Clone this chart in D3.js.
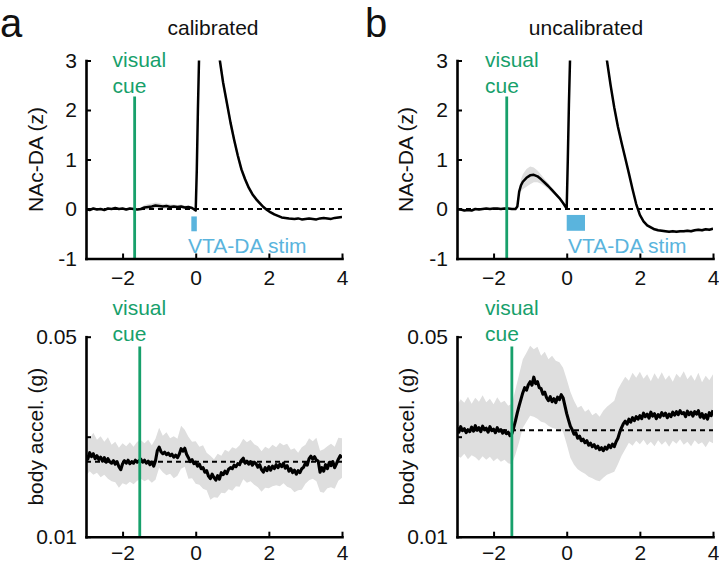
<!DOCTYPE html>
<html><head><meta charset="utf-8">
<script src="https://cdn.jsdelivr.net/npm/d3@7/dist/d3.min.js"></script>
<style>
body{margin:0;background:#fff}
svg{display:block}
text{font-family:"Liberation Sans",Arial,Helvetica,sans-serif}
</style>
</head><body>
<svg id="c" width="719" height="566"></svg>
<script>
// ---------- DATA ----------
const panelLetters = ["a", "b"];
const panelTitles = ["calibrated", "uncalibrated"];
const xTicks = [-2, 0, 2, 4];
const yTicksDA = [-1, 0, 1, 2, 3];
const yTicksAcc = [0.01, 0.03, 0.05];
const yTickLabelsAcc = ["0.01", "", "0.05"];
const yLabelDA = "NAc-DA (z)";
const yLabelAcc = "body accel. (g)";
const cueText = ["visual", "cue"];
const stimText = "VTA-DA stim";
const cueTimeDA = [-1.67, -1.64];
const cueTimeAcc = [-1.53, -1.5];
const stimA = [-0.12, 0.03, -0.15, -0.45];
const stimB = [0, 0.5, -0.12, -0.44];
const baselineDA = [0, 0];
const baselineAcc = [0.025, 0.0313];

// NAc-DA, calibrated
const tA = [-3,-2.9,-2.8,-2.7,-2.6,-2.5,-2.4,-2.3,-2.2,-2.1,
 -2,-1.9,-1.8,-1.7,-1.6,-1.5,-1.4,-1.3,-1.2,-1.1,
 -1,-0.9,-0.8,-0.7,-0.6,-0.5,-0.4,-0.3,-0.2,-0.1,
 0,0.03,0.06,0.09,0.15,0.25,0.4,0.55,0.66,0.75,
 0.85,0.95,1.05,1.15,1.25,1.35,1.45,1.55,1.65,1.75,
 1.85,1.95,2.05,2.15,2.25,2.35,2.45,2.55,2.7,2.8,
 2.9,3,3.1,3.2,3.3,3.4,3.5,3.6,3.7,3.8,
 3.9,4];
const daA = [0.00,-0.02,0.01,-0.01,0.00,-0.02,0.01,0.00,0.02,0.00,
 0.01,-0.01,0.01,0.00,-0.01,0.00,0.03,0.04,0.05,0.07,
 0.06,0.05,0.06,0.04,0.05,0.04,0.05,0.03,0.04,0.02,
 -0.03,0.8,2.0,3.0,4.5,5.5,5.2,3.9,3.0,2.55,
 2.15,1.75,1.4,1.08,0.8,0.6,0.43,0.3,0.2,0.12,
 0.04,-0.02,-0.07,-0.11,-0.14,-0.17,-0.18,-0.19,-0.2,-0.19,
 -0.21,-0.2,-0.19,-0.2,-0.21,-0.19,-0.18,-0.19,-0.2,-0.18,
 -0.17,-0.16];
const semA = [0.02,0.02,0.02,0.02,0.02,0.02,0.02,0.02,0.02,0.02,
 0.02,0.02,0.02,0.02,0.02,0.03,0.05,0.06,0.06,0.06,
 0.06,0.05,0.05,0.05,0.04,0.04,0.04,0.04,0.03,0.03,
 0.03,0.05,0.08,0.1,0.15,0.15,0.15,0.15,0.14,0.13,
 0.12,0.11,0.1,0.09,0.08,0.07,0.06,0.05,0.05,0.04,
 0.04,0.03,0.03,0.03,0.02,0.02,0.02,0.02,0.02,0.02,
 0.02,0.02,0.02,0.02,0.02,0.02,0.02,0.02,0.02,0.02,
 0.02,0.02];

// NAc-DA, uncalibrated
const tB = [-3,-2.9,-2.8,-2.7,-2.6,-2.5,-2.4,-2.3,-2.2,-2.1,
 -2,-1.9,-1.8,-1.7,-1.6,-1.5,-1.4,-1.35,-1.3,-1.25,
 -1.2,-1.1,-1,-0.9,-0.8,-0.7,-0.6,-0.5,-0.4,-0.3,
 -0.2,-0.1,-0.02,0,0.03,0.06,0.09,0.2,0.4,0.7,
 0.95,1.1,1.2,1.3,1.4,1.5,1.6,1.7,1.8,1.9,
 2,2.1,2.2,2.3,2.4,2.5,2.6,2.7,2.8,2.9,
 3,3.1,3.2,3.3,3.4,3.5,3.6,3.7,3.8,3.9,
 4];
const daB = [0.00,-0.01,-0.03,-0.02,-0.03,0.00,-0.01,0.00,0.01,0.00,
 0.01,0.01,0.00,0.01,0.01,0.00,0.00,0.05,0.35,0.48,
 0.55,0.63,0.68,0.69,0.66,0.60,0.53,0.46,0.38,0.30,
 0.22,0.12,0.03,0.02,1.0,2.1,3.0,5.0,6.5,5.5,
 3.8,3.0,2.5,2.05,1.66,1.34,1.03,0.72,0.4,0.1,
 -0.12,-0.25,-0.33,-0.37,-0.41,-0.43,-0.44,-0.45,-0.46,-0.45,
 -0.46,-0.45,-0.45,-0.44,-0.45,-0.43,-0.42,-0.43,-0.41,-0.42,
 -0.4];
const semB = [0.02,0.02,0.02,0.02,0.02,0.02,0.02,0.02,0.02,0.02,
 0.02,0.02,0.02,0.02,0.02,0.02,0.02,0.03,0.08,0.12,
 0.15,0.18,0.18,0.15,0.12,0.09,0.07,0.06,0.05,0.04,
 0.04,0.03,0.03,0.03,0.05,0.08,0.1,0.15,0.15,0.15,
 0.12,0.1,0.09,0.08,0.08,0.07,0.06,0.05,0.05,0.04,
 0.04,0.03,0.03,0.03,0.03,0.03,0.03,0.03,0.03,0.03,
 0.03,0.03,0.03,0.03,0.03,0.03,0.03,0.03,0.03,0.03,
 0.03];

// body acceleration, sampled every 0.05 s from -3 to 4
const accA = [0.0262,0.0255,0.0268,0.0260,0.0266,0.0256,0.0262,0.0254,0.0259,0.0251,
 0.0258,0.0249,0.0256,0.0250,0.0247,0.0252,0.0245,0.0250,0.0240,0.0234,
 0.0246,0.0252,0.0247,0.0253,0.0246,0.0250,0.0247,0.0253,0.0249,0.0252,
 0.0255,0.0249,0.0253,0.0247,0.0251,0.0244,0.0249,0.0241,0.0252,0.0272,
 0.0279,0.0270,0.0266,0.0269,0.0264,0.0267,0.0262,0.0265,0.0259,0.0263,
 0.0258,0.0265,0.0276,0.0271,0.0277,0.0265,0.0258,0.0250,0.0254,0.0246,
 0.0249,0.0241,0.0245,0.0236,0.0238,0.0229,0.0232,0.0221,0.0216,0.0225,
 0.0218,0.0213,0.0222,0.0215,0.0228,0.0224,0.0231,0.0226,0.0235,0.0238,
 0.0236,0.0243,0.0240,0.0246,0.0244,0.0253,0.0257,0.0247,0.0251,0.0245,
 0.0250,0.0243,0.0249,0.0246,0.0239,0.0244,0.0234,0.0229,0.0238,0.0232,
 0.0240,0.0233,0.0241,0.0236,0.0244,0.0238,0.0245,0.0240,0.0247,0.0237,
 0.0242,0.0231,0.0236,0.0228,0.0233,0.0225,0.0232,0.0228,0.0236,0.0239,
 0.0247,0.0243,0.0256,0.0261,0.0255,0.0260,0.0253,0.0251,0.0229,0.0238,
 0.0231,0.0244,0.0236,0.0248,0.0242,0.0250,0.0238,0.0246,0.0255,0.0262,
 0.0258];
const accB = [0.0318,0.0309,0.0320,0.0312,0.0316,0.0308,0.0314,0.0310,0.0319,0.0311,
 0.0322,0.0313,0.0318,0.0310,0.0321,0.0314,0.0317,0.0309,0.0320,0.0312,
 0.0315,0.0308,0.0318,0.0311,0.0314,0.0307,0.0312,0.0306,0.0309,0.0302,
 0.0306,0.0318,0.0332,0.0348,0.0362,0.0375,0.0388,0.0398,0.0393,0.0404,
 0.0410,0.0403,0.0419,0.0406,0.0410,0.0398,0.0396,0.0385,0.0389,0.0378,
 0.0372,0.0380,0.0370,0.0376,0.0368,0.0379,0.0374,0.0384,0.0378,0.0362,
 0.0346,0.0333,0.0321,0.0314,0.0305,0.0308,0.0297,0.0301,0.0292,0.0295,
 0.0288,0.0292,0.0283,0.0287,0.0280,0.0284,0.0277,0.0281,0.0274,0.0278,
 0.0272,0.0279,0.0275,0.0283,0.0278,0.0285,0.0280,0.0290,0.0297,0.0309,
 0.0318,0.0326,0.0331,0.0325,0.0335,0.0329,0.0338,0.0332,0.0340,0.0335,
 0.0342,0.0336,0.0347,0.0340,0.0345,0.0337,0.0349,0.0341,0.0346,0.0336,
 0.0344,0.0339,0.0348,0.0342,0.0347,0.0338,0.0345,0.0340,0.0349,0.0343,
 0.0350,0.0344,0.0352,0.0346,0.0348,0.0340,0.0351,0.0344,0.0349,0.0341,
 0.0350,0.0345,0.0352,0.0339,0.0346,0.0337,0.0344,0.0335,0.0348,0.0342,
 0.0353];
// SEM band edges, sampled every 0.1 s from -3 to 4
const accHiA = [.0300,.0296,.0308,.0294,.0301,.0290,.0299,.0284,.0290,.0278,
 .0287,.0281,.0289,.0280,.0290,.0293,.0287,.0294,.0283,.0296,
 .0318,.0302,.0309,.0297,.0301,.0296,.0322,.0314,.0300,.0290,
 .0291,.0280,.0283,.0268,.0262,.0255,.0266,.0262,.0274,.0270,
 .0279,.0276,.0283,.0296,.0289,.0294,.0285,.0281,.0271,.0280,
 .0276,.0284,.0279,.0288,.0283,.0286,.0274,.0277,.0268,.0279,
 .0284,.0297,.0291,.0298,.0272,.0275,.0281,.0286,.0280,.0298,
 .0297];
const accLoA = [.0222,.0231,.0224,.0228,.0219,.0224,.0216,.0211,.0209,.0198,
 .0207,.0204,.0210,.0205,.0212,.0216,.0211,.0215,.0208,.0214,
 .0238,.0229,.0223,.0226,.0217,.0222,.0236,.0240,.0216,.0217,
 .0206,.0204,.0196,.0193,.0174,.0179,.0178,.0188,.0187,.0195,
 .0192,.0201,.0200,.0215,.0208,.0211,.0204,.0199,.0190,.0198,
 .0197,.0201,.0203,.0201,.0207,.0200,.0197,.0189,.0193,.0194,
 .0206,.0213,.0216,.0211,.0190,.0188,.0197,.0199,.0196,.0212,
 .0218];
const accHiB = [.0362,.0375,.0368,.0380,.0366,.0378,.0370,.0383,.0369,.0376,
 .0365,.0379,.0368,.0372,.0362,.0366,.0395,.0425,.0455,.0468,
 .0482,.0475,.0480,.0462,.0470,.0455,.0462,.0452,.0449,.0438,
 .0415,.0390,.0372,.0358,.0362,.0350,.0355,.0343,.0348,.0340,
 .0352,.0360,.0366,.0372,.0395,.0408,.0420,.0412,.0428,.0418,
 .0430,.0416,.0425,.0411,.0427,.0415,.0429,.0414,.0423,.0410,
 .0426,.0418,.0431,.0415,.0424,.0412,.0428,.0409,.0422,.0413,
 .0425];
const accLoB = [.0262,.0258,.0266,.0255,.0263,.0259,.0252,.0261,.0254,.0260,
 .0251,.0257,.0250,.0254,.0247,.0245,.0265,.0290,.0318,.0330,
 .0342,.0340,.0336,.0330,.0328,.0322,.0318,.0316,.0315,.0310,
 .0285,.0258,.0244,.0235,.0230,.0226,.0220,.0217,.0213,.0211,
 .0218,.0224,.0227,.0230,.0245,.0262,.0275,.0288,.0282,.0292,
 .0285,.0294,.0283,.0290,.0281,.0293,.0284,.0291,.0280,.0292,
 .0286,.0295,.0284,.0290,.0281,.0293,.0285,.0289,.0279,.0291,
 .0287];

// ---------- DRAWING ----------
const svg = d3.select("#c");
const FONT = 21;
const GREEN = "#17a06b", BLUE = "#5ab4dd", BAND = "#dedede";
const tFine = d3.range(accA.length).map(i => -3 + i * 0.05);   // sample grid
const tBand = d3.range(accHiA.length).map(i => -3 + i * 0.1);  // sample grid

let clipId = 0;
function drawPanel(p) {
  const x = d3.scaleLinear().domain([-3, 4]).range([p.left, p.right]);
  const y = d3.scaleLinear().domain(p.yDomain).range([p.bottom, p.top]);
  const g = svg.append("g");
  const cid = "clip" + (clipId++);
  svg.append("clipPath").attr("id", cid).append("rect")
    .attr("x", p.left).attr("y", p.top).attr("width", p.right - p.left).attr("height", p.bottom - p.top);
  const cg = g.append("g").attr("clip-path", `url(#${cid})`);

  cg.append("path").datum(p.band)
    .attr("fill", BAND).attr("stroke", "none")
    .attr("d", d3.area().x(d => x(d[0])).y0(d => y(d[1])).y1(d => y(d[2])));
  cg.append("line").attr("x1", x(-3)).attr("x2", x(4)).attr("y1", y(p.baseline)).attr("y2", y(p.baseline))
    .attr("stroke", "#000").attr("stroke-width", 2).attr("stroke-dasharray", "5,4");
  if (p.stim) {
    g.append("rect").attr("x", x(p.stim[0])).attr("width", x(p.stim[1]) - x(p.stim[0]))
      .attr("y", y(p.stim[2])).attr("height", y(p.stim[3]) - y(p.stim[2])).attr("fill", BLUE);
    g.append("text").attr("x", p.stimTextX).attr("y", p.stimTextY).attr("fill", BLUE)
      .attr("font-size", FONT).text(stimText);
  }
  cg.append("path").datum(p.line)
    .attr("fill", "none").attr("stroke", "#000").attr("stroke-width", p.lw).attr("stroke-linejoin", "round")
    .attr("d", d3.line().x(d => x(d[0])).y(d => y(d[1])));
  g.append("line").attr("x1", x(p.cue)).attr("x2", x(p.cue)).attr("y1", p.cueTop).attr("y2", p.bottom)
    .attr("stroke", GREEN).attr("stroke-width", 2.8);
  const ct = g.append("text").attr("fill", GREEN).attr("font-size", FONT);
  ct.append("tspan").attr("x", p.cueTextX).attr("y", p.cueTextY).text(cueText[0]);
  ct.append("tspan").attr("x", p.cueTextX).attr("y", p.cueTextY + 25.5).text(cueText[1]);

  const ax = g.append("g").attr("transform", `translate(0,${p.bottom})`)
    .call(d3.axisBottom(x).tickValues(xTicks).tickFormat(d3.format("d")).tickSizeInner(-5).tickSizeOuter(0).tickPadding(p.xPad));
  const ay = g.append("g").attr("transform", `translate(${p.left},0)`)
    .call(d3.axisLeft(y).tickValues(p.yTicks).tickFormat((d, i) => p.yTickLabels[i]).tickSizeInner(-5).tickSizeOuter(0).tickPadding(9));
  [ax, ay].forEach(a => {
    a.select(".domain").attr("stroke", "#000").attr("stroke-width", 2.6).attr("stroke-linecap", "square");
    a.selectAll(".tick line").attr("stroke", "#000").attr("stroke-width", 2);
    a.selectAll(".tick text").attr("font-size", FONT).attr("fill", "#111")
      .attr("font-family", '"Liberation Sans",Arial,Helvetica,sans-serif');
  });
  g.append("text").attr("transform", `translate(${p.yLabelX},${(p.top + p.bottom) / 2}) rotate(-90)`)
    .attr("text-anchor", "middle").attr("dominant-baseline", "middle").attr("font-size", FONT).attr("fill", "#111")
    .text(p.yLabel);
}

drawPanel({left: 86, right: 342, top: 60.5, bottom: 258.5, yDomain: [-1, 3], xPad: 12,
  line: tA.map((t, i) => [t, daA[i]]), band: tA.map((t, i) => [t, daA[i] - semA[i], daA[i] + semA[i]]),
  baseline: baselineDA[0], yTicks: yTicksDA, yTickLabels: yTicksDA.map(String), yLabel: yLabelDA, yLabelX: 37,
  cue: cueTimeDA[0], cueTop: 96.5, cueTextX: 112.5, cueTextY: 67, lw: 2.5,
  stim: stimA, stimTextX: 188, stimTextY: 253});
drawPanel({left: 457, right: 713, top: 60.5, bottom: 258.5, yDomain: [-1, 3], xPad: 12,
  line: tB.map((t, i) => [t, daB[i]]), band: tB.map((t, i) => [t, daB[i] - semB[i], daB[i] + semB[i]]),
  baseline: baselineDA[1], yTicks: yTicksDA, yTickLabels: yTicksDA.map(String), yLabel: yLabelDA, yLabelX: 407,
  cue: cueTimeDA[1], cueTop: 96.5, cueTextX: 485, cueTextY: 67, lw: 2.5,
  stim: stimB, stimTextX: 568, stimTextY: 253});
drawPanel({left: 86, right: 342, top: 336.7, bottom: 536.7, yDomain: [0.01, 0.05], xPad: 8,
  line: tFine.map((t, i) => [t, accA[i]]), band: tBand.map((t, i) => [t, accLoA[i], accHiA[i]]),
  baseline: baselineAcc[0], yTicks: yTicksAcc, yTickLabels: yTickLabelsAcc, yLabel: yLabelAcc, yLabelX: 37,
  cue: cueTimeAcc[0], cueTop: 346.5, cueTextX: 112.5, cueTextY: 315, lw: 3.1});
drawPanel({left: 457, right: 713, top: 336.7, bottom: 536.7, yDomain: [0.01, 0.05], xPad: 8,
  line: tFine.map((t, i) => [t, accB[i]]), band: tBand.map((t, i) => [t, accLoB[i], accHiB[i]]),
  baseline: baselineAcc[1], yTicks: yTicksAcc, yTickLabels: yTickLabelsAcc, yLabel: yLabelAcc, yLabelX: 408,
  cue: cueTimeAcc[1], cueTop: 346.5, cueTextX: 485, cueTextY: 315, lw: 3.1});

svg.append("text").attr("x", 0).attr("y", 37).attr("font-size", 40).attr("fill", "#111").text(panelLetters[0]);
svg.append("text").attr("x", 365).attr("y", 37).attr("font-size", 40).attr("fill", "#111").text(panelLetters[1]);
svg.append("text").attr("x", 213).attr("y", 35).attr("text-anchor", "middle").attr("font-size", FONT).attr("fill", "#111").text(panelTitles[0]);
svg.append("text").attr("x", 586).attr("y", 35).attr("text-anchor", "middle").attr("font-size", FONT).attr("fill", "#111").text(panelTitles[1]);
</script>
</body></html>
